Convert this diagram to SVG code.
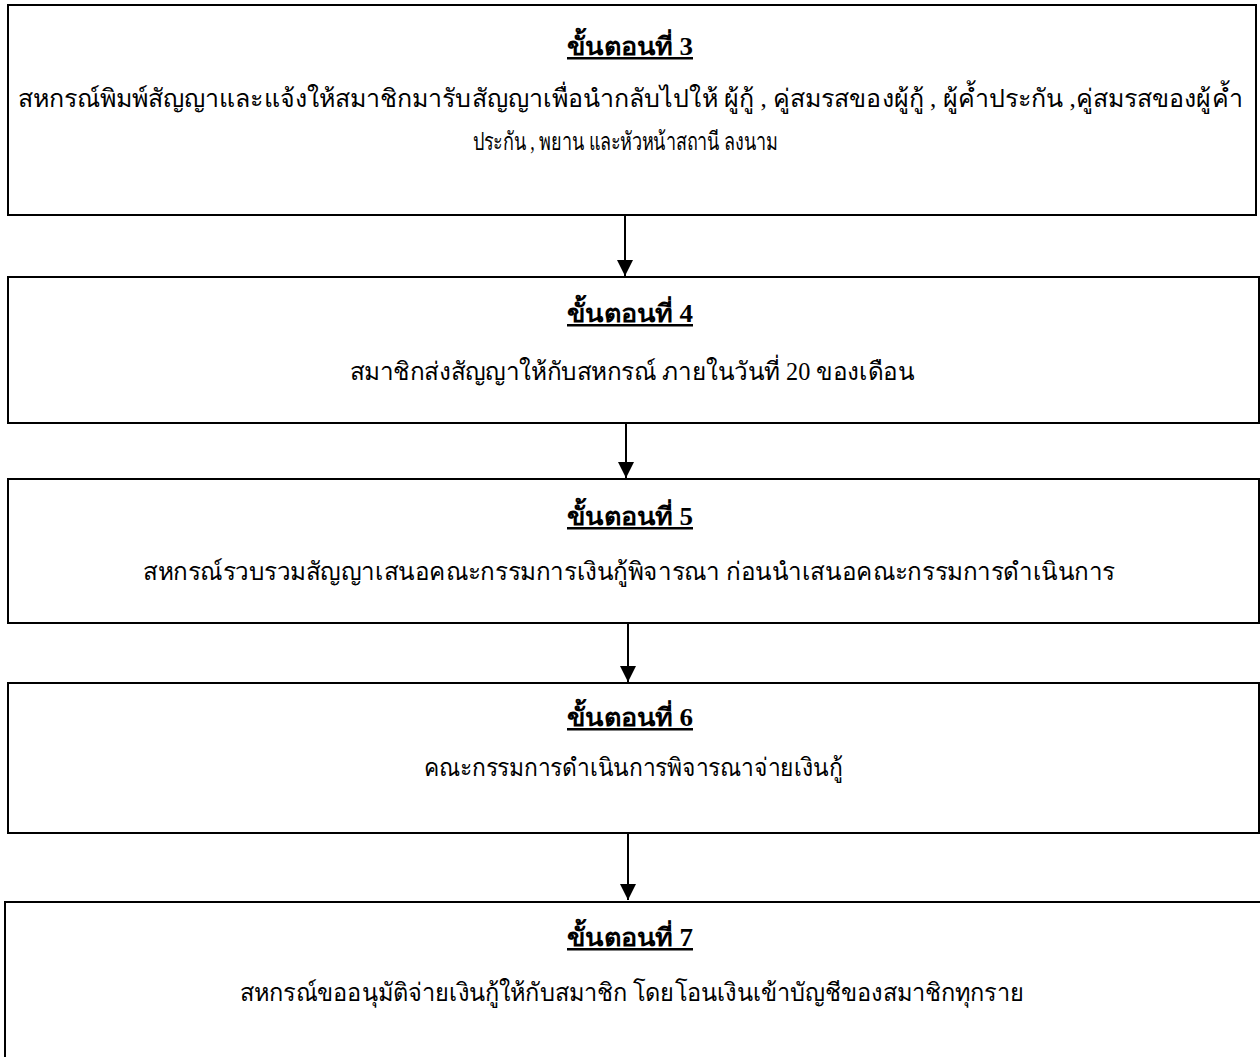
<svg xmlns="http://www.w3.org/2000/svg" width="1260" height="1057" viewBox="0 0 1260 1057">
<style>
.box{fill:#fff;stroke:#000;stroke-width:2}
.t{font-family:"Liberation Serif","DejaVu Serif",serif;font-size:25px;fill:#000;text-anchor:middle}
.h{font-size:25px;font-weight:bold;text-decoration:underline}
.c{stroke:#000;stroke-width:2;fill:none}
</style>
<defs>
<marker id="ah" markerUnits="userSpaceOnUse" markerWidth="16" markerHeight="16" refX="16" refY="8" orient="auto">
<path d="M0,0 L16,8 L0,16 Z" fill="#000"/>
</marker>
</defs>
<rect width="1260" height="1057" fill="#fff"/>
<g id="step3">
<rect class="box" x="8" y="5" width="1248" height="210"/>
<text class="t h" x="630" y="55" textLength="126" lengthAdjust="spacingAndGlyphs">ขั้นตอนที่ 3</text>
<text class="t" x="630" y="107" textLength="1225" lengthAdjust="spacing">สหกรณ์พิมพ์สัญญาและแจ้งให้สมาชิกมารับสัญญาเพื่อนำกลับไปให้ ผู้กู้ , คู่สมรสของผู้กู้ , ผู้ค้ำประกัน ,คู่สมรสของผู้ค้ำ</text>
<text class="t" x="625" y="150" textLength="305" lengthAdjust="spacingAndGlyphs">ประกัน , พยาน และหัวหน้าสถานี ลงนาม</text>
</g>
<g id="step4">
<rect class="box" x="8" y="277" width="1251" height="146"/>
<text class="t h" x="630" y="322" textLength="126" lengthAdjust="spacingAndGlyphs">ขั้นตอนที่ 4</text>
<text class="t" x="632" y="380" textLength="565" lengthAdjust="spacingAndGlyphs">สมาชิกส่งสัญญาให้กับสหกรณ์ ภายในวันที่  20 ของเดือน</text>
</g>
<g id="step5">
<rect class="box" x="8" y="479" width="1251" height="144"/>
<text class="t h" x="630" y="525" textLength="126" lengthAdjust="spacingAndGlyphs">ขั้นตอนที่ 5</text>
<text class="t" x="629" y="580" textLength="972" lengthAdjust="spacingAndGlyphs">สหกรณ์รวบรวมสัญญาเสนอคณะกรรมการเงินกู้พิจารณา ก่อนนำเสนอคณะกรรมการดำเนินการ</text>
</g>
<g id="step6">
<rect class="box" x="8" y="683" width="1251" height="150"/>
<text class="t h" x="630" y="726" textLength="126" lengthAdjust="spacingAndGlyphs">ขั้นตอนที่ 6</text>
<text class="t" x="633" y="776" textLength="419" lengthAdjust="spacingAndGlyphs">คณะกรรมการดำเนินการพิจารณาจ่ายเงินกู้</text>
</g>
<g id="step7">
<rect class="box" x="5" y="902" width="1262" height="170"/>
<text class="t h" x="630" y="946" textLength="126" lengthAdjust="spacingAndGlyphs">ขั้นตอนที่ 7</text>
<text class="t" x="632" y="1001" textLength="784" lengthAdjust="spacingAndGlyphs">สหกรณ์ขออนุมัติจ่ายเงินกู้ให้กับสมาชิก โดยโอนเงินเข้าบัญชีของสมาชิกทุกราย</text>
</g>
<g id="connectors">
<line class="c" x1="625" y1="216" x2="625" y2="276" marker-end="url(#ah)"/>
<line class="c" x1="626" y1="424" x2="626" y2="478" marker-end="url(#ah)"/>
<line class="c" x1="628" y1="624" x2="628" y2="682" marker-end="url(#ah)"/>
<line class="c" x1="628" y1="834" x2="628" y2="900" marker-end="url(#ah)"/>
</g>
</svg>
